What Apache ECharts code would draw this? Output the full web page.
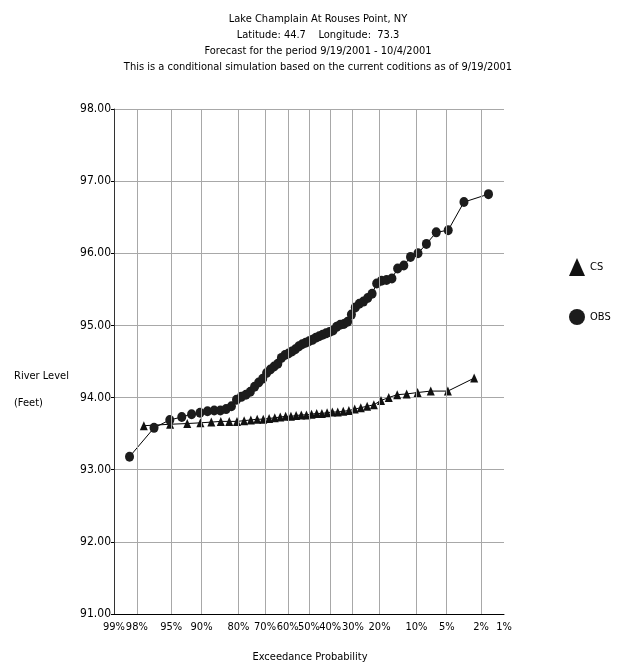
<!DOCTYPE html>
<html>
<head>
<meta charset="utf-8">
<script src="https://cdn.jsdelivr.net/npm/echarts@6/dist/echarts.min.js"></script>
<style>
html,body{margin:0;padding:0;background:#fff;}
#chart{width:626px;height:666px;}
</style>
</head>
<body>
<div id="chart"></div>
<script>
// ---- data ----
const titleLines = [
  'Lake Champlain At Rouses Point, NY',
  'Latitude: 44.7    Longitude:  73.3',
  'Forecast for the period 9/19/2001 - 10/4/2001',
  'This is a conditional simulation based on the current coditions as of 9/19/2001'
];
const tickProbs = [99, 98, 95, 90, 80, 70, 60, 50, 40, 30, 20, 10, 5, 2, 1]; // exceedance %
const yTicks = [91, 92, 93, 94, 95, 96, 97, 98];
// sorted ascending river levels (feet); plotted at Weibull positions i/(n+1)
const csLevels = [
  93.61, 93.63, 93.64, 93.65, 93.66, 93.67, 93.67, 93.67, 93.68, 93.69,
  93.70, 93.70, 93.71, 93.72, 93.73, 93.74, 93.74, 93.75, 93.76, 93.76,
  93.77, 93.78, 93.78, 93.79, 93.80, 93.80, 93.81, 93.82, 93.84, 93.86,
  93.88, 93.90, 93.96, 94.00, 94.04, 94.05, 94.07, 94.09, 94.09, 94.27
];
const obsLevels = [
  93.18, 93.58, 93.69, 93.73, 93.77, 93.79, 93.81, 93.82, 93.82, 93.84,
  93.88, 93.97, 94.01, 94.04, 94.08, 94.15, 94.21, 94.26, 94.34, 94.39,
  94.43, 94.47, 94.55, 94.59, 94.61, 94.64, 94.67, 94.71, 94.74, 94.76,
  94.78, 94.80, 94.83, 94.85, 94.87, 94.89, 94.91, 94.93, 94.98, 95.01,
  95.02, 95.05, 95.15, 95.25, 95.30, 95.33, 95.38, 95.44, 95.58, 95.62,
  95.63, 95.65, 95.79, 95.83, 95.95, 96.00, 96.13, 96.29, 96.32, 96.71,
  96.82
];

// ---- normal probability scale (probit) ----
function probit(p) {
  const a = [-3.969683028665376e+01, 2.209460984245205e+02, -2.759285104469687e+02, 1.383577518672690e+02, -3.066479806614716e+01, 2.506628277459239e+00];
  const b = [-5.447609879822406e+01, 1.615858368580409e+02, -1.556989798598866e+02, 6.680131188771972e+01, -1.328068155288572e+01];
  const c = [-7.784894002430293e-03, -3.223964580411365e-01, -2.400758277161838e+00, -2.549732539343734e+00, 4.374664141464968e+00, 2.938163982698783e+00];
  const d = [7.784695709041462e-03, 3.224671290700398e-01, 2.445134137142996e+00, 3.754408661907416e+00];
  const pl = 0.02425, ph = 1 - pl;
  let q, r;
  if (p < pl) {
    q = Math.sqrt(-2 * Math.log(p));
    return (((((c[0]*q+c[1])*q+c[2])*q+c[3])*q+c[4])*q+c[5]) / ((((d[0]*q+d[1])*q+d[2])*q+d[3])*q+1);
  } else if (p <= ph) {
    q = p - 0.5; r = q * q;
    return (((((a[0]*r+a[1])*r+a[2])*r+a[3])*r+a[4])*r+a[5])*q / (((((b[0]*r+b[1])*r+b[2])*r+b[3])*r+b[4])*r+1);
  } else {
    q = Math.sqrt(-2 * Math.log(1 - p));
    return -(((((c[0]*q+c[1])*q+c[2])*q+c[3])*q+c[4])*q+c[5]) / ((((d[0]*q+d[1])*q+d[2])*q+d[3])*q+1);
  }
}
// x coordinate from exceedance probability (fraction)
const xOf = (exc) => probit(1 - exc);
const toPoints = (levels) => levels.map((v, i) => [xOf(1 - (i + 1) / (levels.length + 1)), v]);

const tickZ = tickProbs.map(p => xOf(p / 100));
const xMin = tickZ[0], xMax = tickZ[tickZ.length - 1];

const FONT = "'DejaVu Sans Condensed', 'Liberation Sans Narrow', 'Liberation Sans', sans-serif";

const chart = echarts.init(document.getElementById('chart'), null, {renderer: 'canvas'});
const option = {
  backgroundColor: '#ffffff',
  animation: false,
  title: {
    text: titleLines.join('\n'),
    left: 313, top: 6, textAlign: 'center',
    textStyle: {fontFamily: FONT, fontSize: 11, fontWeight: 'normal', color: '#000', lineHeight: 16}
  },
  legend: {
    orient: 'vertical', left: 569, top: 258, itemGap: 33, padding: 0,
    itemWidth: 16, itemHeight: 18, symbolKeepAspect: false,
    textStyle: {fontFamily: FONT, fontSize: 11, color: '#000'},
    data: [{name: 'CS', icon: 'triangle'}, {name: 'OBS', icon: 'circle'}]
  },
  grid: {left: 114, right: 122, top: 109, bottom: 52, containLabel: false},
  xAxis: {
    type: 'value', min: xMin, max: xMax,
    axisLine: {show: true, onZero: false, lineStyle: {color: '#000', width: 1}},
    axisTick: {show: false},
    splitLine: {show: false},
    axisLabel: {
      customValues: tickZ, margin: 8, hideOverlap: false,
      fontFamily: FONT, fontSize: 11, color: '#000',
      showMinLabel: true, showMaxLabel: true,
      formatter: (v) => {
        let best = 0;
        tickZ.forEach((z, i) => { if (Math.abs(z - v) < Math.abs(tickZ[best] - v)) best = i; });
        return tickProbs[best] + '%';
      }
    }
  },
  yAxis: {
    type: 'value', min: yTicks[0], max: yTicks[yTicks.length - 1], interval: 1,
    axisLine: {show: true, onZero: false, lineStyle: {color: '#333', width: 1}},
    axisTick: {show: true, length: 3, lineStyle: {color: '#000'}},
    splitLine: {show: true, lineStyle: {color: '#a8a8a8', width: 1}},
    axisLabel: {fontFamily: FONT, fontSize: 12, color: '#000', margin: 3, formatter: (v) => v.toFixed(2)}
  },
  graphic: [
    {type: 'text', x: 14, y: 376, style: {text: 'River Level', font: '11px ' + FONT, fill: '#000', verticalAlign: 'middle'}},
    {type: 'text', x: 14, y: 403, style: {text: '(Feet)', font: '11px ' + FONT, fill: '#000', verticalAlign: 'middle'}},
    {type: 'text', x: 310, y: 657, style: {text: 'Exceedance Probability', font: '11px ' + FONT, fill: '#000', align: 'center', verticalAlign: 'middle'}}
  ],
  series: [
    {
      name: 'CS', type: 'line', data: toPoints(csLevels),
      symbol: 'triangle', symbolSize: [8, 9], showSymbol: true,
      lineStyle: {color: '#000', width: 1},
      itemStyle: {color: '#111'},
      z: 3,
      markLine: {
        silent: true, symbol: 'none', animation: false,
        label: {show: false},
        data: tickZ.map((z, i) => ({
          xAxis: z,
          lineStyle: {color: i === tickZ.length - 1 ? '#222' : '#a8a8a8', width: 1, type: 'solid'}
        }))
      }
    },
    {
      name: 'OBS', type: 'line', data: toPoints(obsLevels),
      symbol: 'circle', symbolSize: [9, 10], showSymbol: true,
      lineStyle: {color: '#000', width: 1},
      itemStyle: {color: '#1c1c1c'},
      z: 4
    }
  ]
};
chart.setOption(option);
</script>
</body>
</html>
